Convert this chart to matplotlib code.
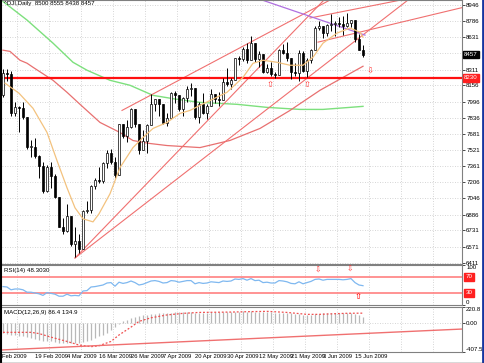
import matplotlib
matplotlib.use("Agg")
import matplotlib.pyplot as plt
from matplotlib.lines import Line2D
import matplotlib.transforms as mtransforms

plt.rcParams['font.family'] = ['Liberation Sans Narrow', 'Liberation Sans', 'DejaVu Sans']

# daily bars, index 0 = first bar on the left
opens = [8063, 8280, 8270, 7888, 7939, 7932, 7850, 7552, 7555, 7465,
         7365, 7114, 7350, 7270, 7062, 6763, 6726, 6875, 6594, 6626,
         6547, 6926, 6930, 7170, 7224, 7217, 7396, 7487, 7401, 7278,
         7776, 7660, 7750, 7925, 7776, 7522, 7609, 7762, 7978, 8018,
         7976, 7790, 7837, 8083, 8058, 7920, 8030, 8125, 8131, 7842,
         7970, 7887, 7957, 8076, 8025, 8017, 8186, 8168, 8212, 8427,
         8411, 8512, 8410, 8575, 8419, 8469, 8285, 8331, 8269, 8262,
         8504, 8475, 8422, 8292, 8277, 8473, 8300, 8404, 8500, 8721,
         8741, 8675, 8750, 8763, 8764, 8763, 8739, 8771, 8799, 8612,
         8500]
highs = [8315, 8320, 8300, 7990, 7950, 7990, 7850, 7620, 7640, 7470,
         7400, 7370, 7400, 7290, 7062, 6850, 6990, 6875, 6760, 6700,
         6930, 7020, 7175, 7250, 7350, 7400, 7520, 7530, 7450, 7780,
         7780, 7820, 7930, 7925, 7776, 7720, 7780, 8075, 8020, 8018,
         7976, 7880, 8090, 8100, 8058, 8040, 8150, 8180, 8131, 7990,
         8080, 7970, 8120, 8076, 8090, 8230, 8330, 8230, 8430, 8440,
         8530, 8570, 8640, 8575, 8490, 8469, 8370, 8390, 8290, 8510,
         8560, 8580, 8422, 8380, 8500, 8490, 8430, 8510, 8740, 8790,
         8741, 8760, 8860, 8790, 8830, 8840, 8870, 8800, 8799, 8660,
         8555]
lows = [8040, 8200, 7860, 7860, 7700, 7830, 7530, 7450, 7440, 7250,
        7100, 7110, 7150, 7050, 6760, 6700, 6720, 6580, 6470, 6510,
        6545, 6900, 6900, 7140, 7200, 7200, 7340, 7380, 7250, 7278,
        7640, 7600, 7740, 7750, 7480, 7522, 7490, 7762, 7900, 7860,
        7780, 7760, 7837, 7980, 7900, 7860, 7990, 8050, 7830, 7790,
        7870, 7830, 7950, 7980, 7950, 8017, 8150, 8120, 8212, 8360,
        8400, 8380, 8410, 8390, 8340, 8280, 8280, 8250, 8230, 8262,
        8460, 8400, 8220, 8250, 8200, 8290, 8240, 8380, 8500, 8700,
        8620, 8640, 8690, 8640, 8730, 8650, 8730, 8730, 8580, 8500,
        8438]
closes = [8280, 8270, 7888, 7939, 7932, 7850, 7552, 7555, 7465, 7365,
          7114, 7350, 7270, 7062, 6763, 6726, 6875, 6594, 6626, 6547,
          6926, 6930, 7170, 7224, 7217, 7396, 7487, 7401, 7278, 7776,
          7660, 7750, 7925, 7776, 7522, 7609, 7762, 7978, 8018, 7976,
          7790, 7837, 8083, 8058, 7920, 8030, 8125, 8131, 7842, 7970,
          7887, 7957, 8076, 8025, 8017, 8186, 8168, 8212, 8427, 8411,
          8512, 8410, 8575, 8419, 8469, 8285, 8331, 8269, 8262, 8504,
          8475, 8422, 8292, 8277, 8473, 8300, 8404, 8500, 8721, 8741,
          8675, 8750, 8763, 8764, 8763, 8739, 8771, 8799, 8612, 8505,
          8457]

# moving averages (bar index, price)
ma_fast_x = [0.5, 4, 7.5, 11, 13.5, 16, 18, 20, 22.5, 24, 26.75, 29.25, 32.5, 35,
             37.5, 41, 44.25, 46.75, 49.25, 56, 60, 62.5, 65, 68.5, 71.75, 75,
             77.5, 80, 83.5, 86.75, 89.25, 90]
ma_fast_y = [8178, 8079, 7931, 7694, 7417, 7150, 6953, 6845, 6815, 6894, 7091, 7348,
             7545, 7644, 7733, 7792, 7881, 7910, 7960, 8088, 8235, 8373, 8403, 8383,
             8354, 8354, 8433, 8571, 8670, 8719, 8679, 8630]
ma_mid_x = [0, 1.75, 4.25, 6, 7.5, 12.5, 16, 19.25, 24.25, 29.25, 32.5, 36.75, 41,
            49.25, 56.75, 64.25, 71.75, 79.25, 90]
ma_mid_y = [8502, 8490, 8403, 8374, 8334, 8206, 8088, 7970, 7792, 7693, 7614, 7585,
            7565, 7545, 7615, 7733, 7910, 8108, 8344]
ma_slow_x = [0, 1, 6, 12.5, 17.5, 21, 26.75, 31.75, 37.5, 43.5, 49.25, 58.5, 66,
             74.25, 80, 86.75, 90]
ma_slow_y = [8980, 8950, 8798, 8571, 8383, 8305, 8206, 8157, 8058, 8019, 7989, 7970,
             7940, 7920, 7920, 7940, 7950]

# trend lines: ((x0, y0), (x1, y1)) in bar index / price
trend_lines = [((18, 6460), (80.25, 8995)),
               ((18, 6460), (101.25, 8995)),
               ((29.75, 7910), (81.75, 8995)),
               ((76.75, 8818), (99.5, 8995)),
               ((78.75, 8581), (114.75, 8920))]
purple_line = ((64.75, 8995), (90.5, 8650))
support_level = 8230

# RSI(14)
rsi = [46, 45, 38, 40, 40, 38, 32, 32, 30, 28, 24, 31, 29, 27, 22, 22, 27, 23, 24, 23,
       35, 36, 45, 46, 48, 50, 55, 56, 47, 57, 54, 56, 60, 56, 50, 52, 56, 60, 61, 59,
       55, 56, 61, 60, 57, 59, 61, 61, 53, 56, 54, 55, 58, 57, 56, 60, 59, 60, 65, 64,
       66, 62, 66, 61, 62, 56, 57, 55, 55, 61, 60, 58, 54, 53, 58, 53, 56, 59, 64, 65,
       62, 64, 64, 64, 64, 63, 64, 66, 56, 50, 48.3]

# MACD(12,26,9) main (histogram) and signal
macd_main = [-147, -150, -165, -175, -185, -190, -205, -212, -225, -235,
             -254, -250, -255, -262, -275, -282, -280, -285, -282, -280,
             -268, -255, -240, -215, -190, -170, -140, -100, -60, -20,
             20, 45, 70, 85, 95, 105, 115, 123, 130, 137,
             137, 138, 142, 145, 145, 146, 147, 148, 140, 142,
             140, 142, 145, 146, 146, 148, 150, 152, 155, 156,
             158, 156, 158, 155, 155, 150, 148, 145, 140, 142,
             140, 138, 132, 125, 120, 112, 110, 112, 120, 128,
             132, 136, 138, 140, 140, 138, 138, 140, 125, 105,
             86.4]
sig_x = [0, 7, 9, 12, 16, 19, 22, 24, 27, 29, 32, 34, 37, 41, 45, 49, 57, 61, 66,
         71, 76, 79, 82, 86, 90]
sig_y = [-133, -133, -150, -200, -260, -310, -333, -320, -260, -170, -60, 20, 70,
         110, 132, 145, 150, 155, 160, 145, 118, 118, 125, 133, 134.9]
macd_trend = ((-0.75, -380), (114.75, -87))

date_pos = [-1.4, 8, 16, 24, 32, 40, 48, 56, 64, 72, 80, 88]
date_labels = ["6 Feb 2009", "19 Feb 2009", "4 Mar 2009", "16 Mar 2009", "26 Mar 2009",
               "7 Apr 2009", "20 Apr 2009", "30 Apr 2009", "12 May 2009",
               "21 May 2009", "3 Jun 2009", "15 Jun 2009"]
price_ticks = [8946, 8786, 8631, 8471, 8311, 8156, 7996, 7836, 7681, 7521,
               7361, 7206, 7046, 6886, 6731, 6571, 6411]

W, H = 485, 363
fig = plt.figure(figsize=(W / 100, H / 100), dpi=100)
fig.patch.set_facecolor("white")


def box(x0, y0, x1, y1):
    return [x0 / W, 1 - y1 / H, (x1 - x0) / W, (y1 - y0) / H]


ax = fig.add_axes(box(2, 0, 462, 264))
ax_rsi = fig.add_axes(box(2, 265, 462, 305))
ax_macd = fig.add_axes(box(2, 307, 462, 352))

XL = (-0.25, 114.75)
grid_x = [3.5 + 8 * k for k in range(14)]
FS = 4.4
red = "#f07070"

for a in (ax, ax_rsi, ax_macd):
    a.set_xlim(*XL)
    a.set_xticks([])
    a.yaxis.tick_right()
    a.tick_params(axis="y", length=2, width=0.5, labelsize=FS, pad=1, colors="black")
    for s in a.spines.values():
        s.set_color("#808080")
        s.set_linewidth(0.8)
    a.spines["left"].set_visible(False)
    for gx in grid_x:
        a.axvline(gx, color="#c8c8c8", lw=0.6, ls=(0, (1, 2)), zorder=0)

# ---- main price panel
ax.set_ylim(6401, 8995)
ax.set_yticks(price_ticks)
# 8471 sits under the current price box
ax.set_yticklabels(["" if t == 8471 else str(t) for t in price_ticks])
for t in price_ticks:
    ax.axhline(t, color="#c8c8c8", lw=0.6, ls=(0, (1, 2)), zorder=0)

idx = list(range(len(closes)))
ax.vlines(idx, lows, highs, color="black", lw=0.7, zorder=3)
for i in idx:
    o, c = opens[i], closes[i]
    up = c >= o
    hgt = max(abs(c - o), 6)
    ax.bar(i, hgt, bottom=min(o, c), width=0.7,
           color="white" if up else "black", edgecolor="black", lw=0.5, zorder=4)

ax.plot(ma_slow_x, ma_slow_y, color="#7de07d", lw=1.0, zorder=2)
ax.plot(ma_mid_x, ma_mid_y, color="#e87070", lw=0.9, zorder=2)
ax.plot(ma_fast_x, ma_fast_y, color="#f3c27e", lw=0.9, zorder=5)
for (p0, p1) in trend_lines:
    ax.plot([p0[0], p1[0]], [p0[1], p1[1]], color=red, lw=0.8, zorder=2)
ax.plot([purple_line[0][0], purple_line[1][0]], [purple_line[0][1], purple_line[1][1]],
        color="#b070e0", lw=0.9, zorder=2)
ax.axhline(support_level, color="#ff1010", lw=1.6, zorder=2)

# fractal arrows
ax.text(66.75, 8150, "\u21e7", color="#ff3030", fontsize=6, ha="center", va="center", zorder=6)
ax.text(76, 8150, "\u21e7", color="#ff3030", fontsize=6, ha="center", va="center", zorder=6)
ax.text(91.75, 8290, "\u21e9", color="#ff3030", fontsize=6, ha="center", va="center", zorder=6)

trans = mtransforms.blended_transform_factory(ax.transAxes, ax.transData)
ax.text(1.004, closes[-1], str(closes[-1]), transform=trans, fontsize=FS, color="white",
        va="center", ha="left", bbox=dict(boxstyle="square,pad=0.2", fc="black", ec="black"),
        zorder=10, clip_on=False)
ax.text(1.004, support_level, str(support_level), transform=trans, fontsize=FS, color="white",
        va="center", ha="left", bbox=dict(boxstyle="square,pad=0.2", fc="#ff2020", ec="#ff2020"),
        zorder=10, clip_on=False)
ax.text(0.005, 0.995, "^DJI,Daily  8500 8555 8438 8457", transform=ax.transAxes,
        fontsize=FS, va="top", ha="left")

# ---- RSI panel
ax_rsi.set_ylim(0, 100)
ax_rsi.set_yticks([0, 100])
ax_rsi.set_yticklabels(["0", "100"])
ax_rsi.get_yticklabels()[0].set_va("bottom")
ax_rsi.get_yticklabels()[1].set_va("top")
ax_rsi.axhline(70, color="#ff8080", lw=1.2)
ax_rsi.axhline(30, color="#ff8080", lw=1.2)
ax_rsi.plot(idx, rsi, color="#7fb8f0", lw=0.9)
tr = mtransforms.blended_transform_factory(ax_rsi.transAxes, ax_rsi.transData)
for lv in (70, 30):
    ax_rsi.text(1.008, lv, str(lv), transform=tr, fontsize=FS, color="white", va="center",
                ha="left", bbox=dict(boxstyle="square,pad=0.2", fc="#ff2020", ec="#ff2020"),
                clip_on=False)
ax_rsi.text(78.75, 84, "\u21e9", color="#ff3030", fontsize=5.5, ha="center", va="center")
ax_rsi.text(86.75, 88, "\u21e9", color="#ff3030", fontsize=5.5, ha="center", va="center")
ax_rsi.text(88.75, 18, "\u21e7", color="#ff2020", fontsize=6, ha="center", va="center",
            fontweight="bold")
ax_rsi.text(0.005, 0.92, "RSI(14) 48.3030", transform=ax_rsi.transAxes, fontsize=FS,
            va="top", ha="left")

# ---- MACD panel
ax_macd.set_ylim(-407.5, 220.8)
ax_macd.set_yticks([-407.5, 0, 220.8])
ax_macd.set_yticklabels(["-407.5", "0.00", "220.8"])
ax_macd.get_yticklabels()[0].set_va("bottom")
ax_macd.get_yticklabels()[2].set_va("top")
ax_macd.axhline(0, color="#c8c8c8", lw=0.6, ls=(0, (1, 2)), zorder=0)
ax_macd.vlines(idx, 0, macd_main, color="#b8b8b8", lw=0.9)
ax_macd.plot(sig_x, sig_y, color="#f05050", lw=0.9, ls=(0, (1.5, 1.5)))
ax_macd.plot([macd_trend[0][0], macd_trend[1][0]], [macd_trend[0][1], macd_trend[1][1]],
             color=red, lw=1.0)
ax_macd.text(0.005, 0.93, "MACD(12,26,9) 86.4 134.9", transform=ax_macd.transAxes,
             fontsize=FS, va="top", ha="left")

# date labels under the last panel
dtr = mtransforms.blended_transform_factory(ax_macd.transData, ax_macd.transAxes)
for p, lab in zip(date_pos, date_labels):
    ax_macd.text(p, -0.04, lab, transform=dtr, fontsize=4.2, va="top", ha="left",
                 clip_on=False)

# window frame bits
fig.add_artist(Line2D([1 / W, 1 / W], [0, 1], color="black", lw=1.5))
fig.add_artist(Line2D([483 / W, 483 / W], [0, 1], color="#1535a0", lw=2))
fig.add_artist(Line2D([0, 1], [0.5 / H, 0.5 / H], color="#404040", lw=1))

fig.savefig("out.png", dpi=100)
